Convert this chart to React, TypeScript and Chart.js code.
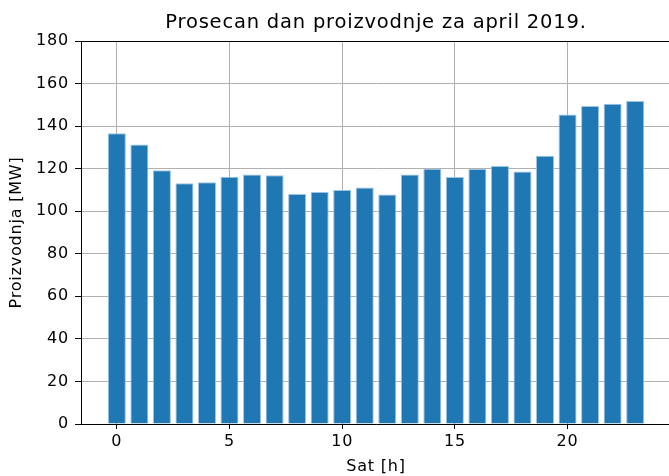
import React, { useEffect, useRef } from "react";
import { Chart, registerables } from "chart.js";

Chart.register(...registerables);

const hours = [0, 1, 2, 3, 4, 5, 6, 7, 8, 9, 10, 11, 12, 13, 14, 15, 16, 17, 18, 19, 20, 21, 22, 23];
const production = [
  136.6, 131.4, 119.2, 113.1, 113.6, 116.2, 117.2, 116.9, 108.1, 109.0, 110.0, 111.1,
  107.9, 117.3, 120.0, 116.1, 119.8, 121.2, 118.7, 126.1, 145.4, 149.4, 150.5, 151.8,
];
const xTickValues = [0, 5, 10, 15, 20];
const yMin = 0;
const yMax = 180;
const yStep = 20;
const titleText = "Prosecan dan proizvodnje za april 2019.";
const xTitle = "Sat [h]";
const yTitle = "Proizvodnja [MW]";

const FONT = "'DejaVu Sans', sans-serif";

const spacingPlugin = {
  id: "textSpacing",
  beforeUpdate(chart: any) {
    chart.ctx.letterSpacing = "0.8px";
  },
  beforeDraw(chart: any) {
    chart.ctx.letterSpacing = "0.8px";
  },
};

const framePlugin = {
  id: "frameTop",
  afterDraw(chart: any) {
    const { ctx, chartArea } = chart;
    ctx.save();
    ctx.strokeStyle = "#000";
    ctx.lineWidth = 1;
    ctx.beginPath();
    ctx.moveTo(chartArea.left, Math.round(chartArea.top) + 0.5);
    ctx.lineTo(chartArea.right, Math.round(chartArea.top) + 0.5);
    ctx.moveTo(Math.round(chartArea.right) - 0.5, chartArea.top);
    ctx.lineTo(Math.round(chartArea.right) - 0.5, chartArea.bottom);
    ctx.stroke();
    ctx.restore();
  },
};

export default function App() {
  const ref = useRef<HTMLCanvasElement | null>(null);

  useEffect(() => {
    if (!ref.current) return;
    const barMin = Math.min(...hours) - 0.4;
    const barMax = Math.max(...hours) + 0.4;
    const margin = (barMax - barMin) * 0.05;
    const chart = new Chart(ref.current, {
      type: "bar",
      data: {
        datasets: [
          {
            data: hours.map((h, i) => ({ x: h, y: production[i] })),
            backgroundColor: "#1f77b4",
            borderColor: "#9cc3e3",
            borderWidth: 1,
            barPercentage: 0.8,
            categoryPercentage: 1.0,
          },
        ],
      },
      options: {
        animation: false,
        responsive: false,
        devicePixelRatio: 1,
        layout: { padding: { left: 0, right: 29, top: 0, bottom: 0 } },
        plugins: {
          legend: { display: false },
          tooltip: { enabled: false },
          title: {
            display: true,
            text: titleText,
            fullSize: false,
            color: "#000",
            font: { family: FONT, size: 19.5, weight: "normal" },
            padding: { top: 11, bottom: 6.6 },
          },
        },
        scales: {
          x: {
            type: "linear",
            min: barMin - margin,
            max: barMax + margin,
            offset: false,
            z: 1,
            afterBuildTicks(scale: any) {
              scale.ticks = xTickValues.map((v) => ({ value: v }));
            },
            afterFit(scale: any) {
              scale.height = 52;
            },
            ticks: {
              color: "#000",
              font: { family: FONT, size: 16 },
              padding: 3,
              maxRotation: 0,
              autoSkip: false,
            },
            grid: {
              offset: false,
              color: "#b0b0b0",
              lineWidth: 1,
              tickColor: "#000",
              tickLength: 5,
              drawTicks: true,
            },
            border: { display: true, color: "#000", width: 1 },
            title: {
              display: true,
              text: xTitle,
              color: "#000",
              font: { family: FONT, size: 16 },
              padding: { top: 0, bottom: 0 },
            },
          },
          y: {
            type: "linear",
            min: yMin,
            max: yMax,
            z: 1,
            afterFit(scale: any) {
              scale.width = 81;
            },
            ticks: {
              stepSize: yStep,
              color: "#000",
              font: { family: FONT, size: 16 },
              padding: 6,
            },
            grid: {
              color: "#b0b0b0",
              lineWidth: 1,
              tickColor: "#000",
              tickLength: 6,
              drawTicks: true,
            },
            border: { display: true, color: "#000", width: 1 },
            title: {
              display: true,
              text: yTitle,
              color: "#000",
              font: { family: FONT, size: 16 },
              padding: { top: 7, bottom: 0 },
            },
          },
        },
      },
      plugins: [spacingPlugin, framePlugin],
    } as any);
    return () => chart.destroy();
  }, []);

  return (
    <div style={{ position: "absolute", left: 0, top: 0, width: 669, height: 476, overflow: "hidden", background: "#fff" }}>
      <canvas ref={ref} width={700} height={476} style={{ width: 700, height: 476, display: "block" }} />
    </div>
  );
}
